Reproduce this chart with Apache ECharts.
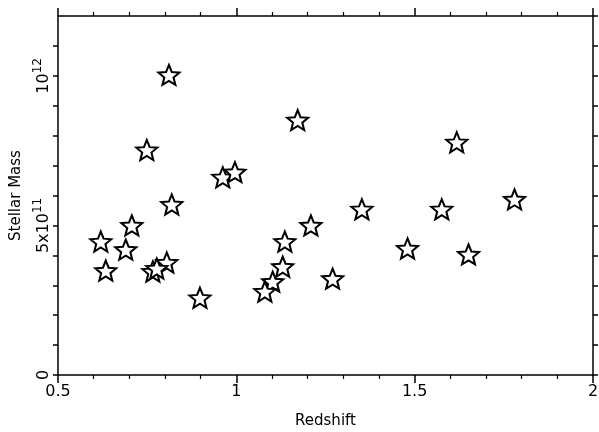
<!DOCTYPE html>
<html>
<head>
<meta charset="utf-8">
<script src="https://cdn.jsdelivr.net/npm/echarts@6/dist/echarts.min.js"></script>
<style>html,body{margin:0;padding:0;background:#fff;}#c{width:599px;height:432px;}</style>
</head>
<body>
<div id="c"></div>
<script>
var redshift = [0.811, 1.172, 0.749, 1.618, 0.962, 0.996, 0.819, 1.352, 1.576, 1.780, 0.707, 1.209, 0.620, 1.136, 0.690, 1.480, 1.651, 0.634, 0.805, 0.766, 0.777, 1.130, 1.102, 1.080, 0.898, 1.270];
var stellarMass = [1.003e12, 0.852e12, 0.752e12, 0.778e12, 0.661e12, 0.678e12, 0.570e12, 0.554e12, 0.554e12, 0.587e12, 0.500e12, 0.500e12, 0.446e12, 0.446e12, 0.419e12, 0.423e12, 0.403e12, 0.349e12, 0.376e12, 0.346e12, 0.356e12, 0.362e12, 0.312e12, 0.279e12, 0.258e12, 0.322e12];
var xTickLabels = {0.5: '0.5', 1: '1', 1.5: '1.5', 2: '2'};
var yTickLabels = {0: '0', 500000000000: '{n|5x10}{s|11}', 1000000000000: '{n|10}{s|12}'};

var points = redshift.map(function (x, i) { return [x, stellarMass[i]]; });
var starPath = 'path://M50 0 L62.93 32.2 L97.55 34.55 L70.92 56.8 L79.39 90.45 L50 72 L20.61 90.45 L29.08 56.8 L2.45 34.55 L37.07 32.2 Z';
var font = 'DejaVu Sans, Verdana, sans-serif';
var lineStyle = {color: '#000', width: 1.5};

var chart = echarts.init(document.getElementById('c'), null, {renderer: 'canvas'});
chart.setOption({
  animation: false,
  backgroundColor: '#fff',
  grid: {left: 58, right: 6, top: 16, bottom: 57, outerBoundsMode: 'none', containLabel: false},
  xAxis: [{
    type: 'value', min: 0.5, max: 2, interval: 0.5, position: 'bottom',
    name: 'Redshift', nameLocation: 'middle', nameGap: 39,
    nameTextStyle: {fontFamily: font, fontSize: 15, color: '#000'},
    axisLine: {show: true, onZero: false, lineStyle: lineStyle},
    axisTick: {show: true, inside: false, length: 8, lineStyle: lineStyle},
    minorTick: {show: true, splitNumber: 5, length: 4, lineStyle: {color: '#000', width: 1.2}},
    splitLine: {show: false},
    axisLabel: {fontFamily: font, fontSize: 16, color: '#000', margin: 9,
      formatter: function (v) { return xTickLabels[v] !== undefined ? xTickLabels[v] : ''; }}
  }, {
    type: 'value', min: 0.5, max: 2, interval: 0.5, position: 'top',
    axisLine: {show: true, onZero: false, lineStyle: lineStyle},
    axisTick: {show: true, inside: false, length: 8, lineStyle: lineStyle},
    minorTick: {show: true, splitNumber: 5, length: 4, lineStyle: {color: '#000', width: 1.2}},
    splitLine: {show: false},
    axisLabel: {show: false}
  }],
  yAxis: [{
    type: 'value', min: 0, max: 1.2e12, interval: 1e11, position: 'left',
    name: 'Stellar Mass', nameLocation: 'middle', nameGap: 34, nameRotate: 90,
    nameTextStyle: {fontFamily: font, fontSize: 15, color: '#000'},
    axisLine: {show: true, onZero: false, lineStyle: lineStyle},
    axisTick: {show: true, inside: false, length: 5, lineStyle: lineStyle},
    splitLine: {show: false},
    axisLabel: {fontFamily: font, fontSize: 16, color: '#000', margin: 6, rotate: 90,
      showMaxLabel: false,
      formatter: function (v) { return yTickLabels[v] !== undefined ? yTickLabels[v] : ''; },
      rich: {
        n: {fontFamily: font, fontSize: 16, color: '#000', lineHeight: 20, verticalAlign: 'bottom'},
        s: {fontFamily: font, fontSize: 12, color: '#000', lineHeight: 20, verticalAlign: 'top'}
      }}
  }, {
    type: 'value', min: 0, max: 1.2e12, interval: 1e11, position: 'right',
    axisLine: {show: true, onZero: false, lineStyle: lineStyle},
    axisTick: {show: true, inside: false, length: 5, lineStyle: lineStyle},
    splitLine: {show: false},
    axisLabel: {show: false}
  }],
  series: [{
    type: 'scatter',
    xAxisIndex: 0, yAxisIndex: 0,
    data: points,
    symbol: starPath,
    symbolSize: [21, 20],
    itemStyle: {color: '#fff', borderColor: '#000', borderWidth: 2, opacity: 1},
    emphasis: {disabled: true}
  }]
});
</script>
</body>
</html>
